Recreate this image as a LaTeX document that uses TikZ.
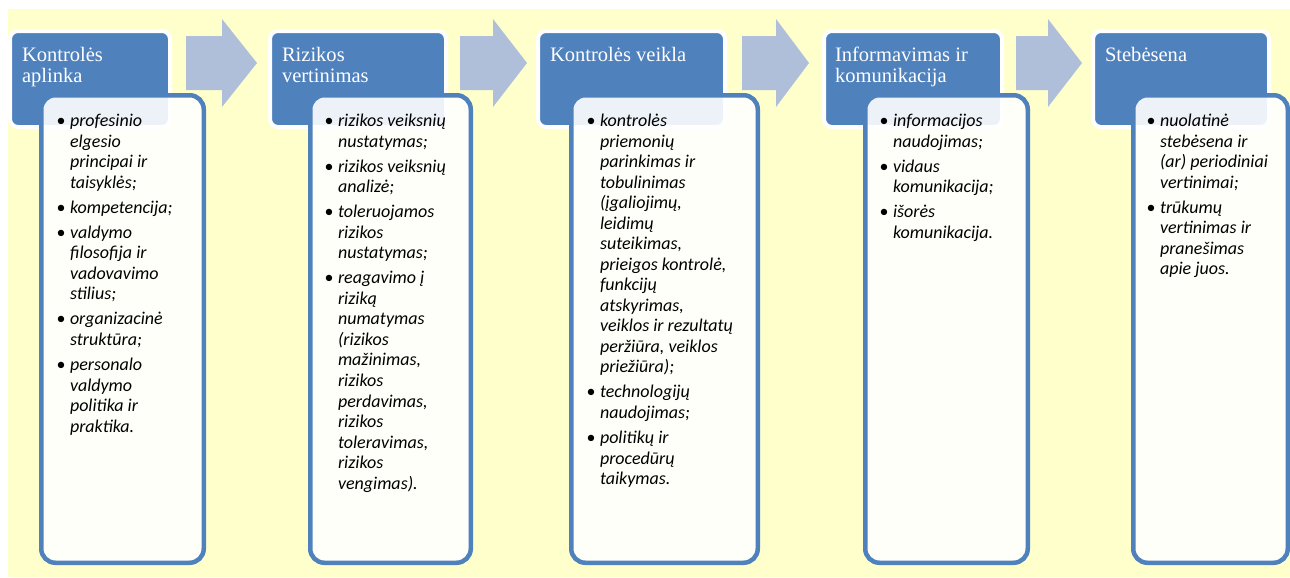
\documentclass[tikz,border=0pt]{standalone}
\usepackage{fontspec}
\setmainfont{Liberation Serif}
\newfontfamily\carl{Carlito}
\newdimen\pxu \pxu=0.75pt
\definecolor{hblue}{HTML}{4F81BD}
\definecolor{ablue}{HTML}{AFBFDA}
\definecolor{bgyel}{HTML}{FFFFCC}
\newcommand{\bl}{\llap{{\upshape\textbullet}\hspace{4.5\pxu}}}
\newcommand{\ig}{\\[3.4pt]}
\tikzset{
  hdr/.style={draw=white, line width=4\pxu, fill=hblue, rounded corners=8\pxu,
    inner sep=0pt, outer sep=0pt, anchor=north west, minimum height=96\pxu},
  cbox/.style={draw=hblue, line width=4.5\pxu, fill=white, fill opacity=0.9, draw opacity=1,
    rounded corners=14\pxu, inner sep=0pt, outer sep=0pt, anchor=north west, minimum height=467.5\pxu},
  htext/.style={anchor=base west, inner sep=0pt, outer sep=0pt, text=white,
    font=\fontsize{15.4}{16}\selectfont},
  ctext/.style={anchor=base west, inner sep=0pt, outer sep=0pt, text=black,
    font=\carl\itshape\fontsize{13.5}{15.4}\selectfont},
  arr/.style={fill=ablue}
}
\begin{document}
\begin{tikzpicture}[x=0.75pt,y=-0.75pt]
\useasboundingbox (0,0) rectangle (1290,578);
\fill[bgyel] (8,9) rectangle (1290,577);
% headers
\node (h1) [hdr, minimum width=160\pxu] at (10,31) {};
\node (h2) [hdr, minimum width=176\pxu] at (270,31) {};
\node (h3) [hdr, minimum width=187\pxu] at (538,31) {};
\node (h4) [hdr, minimum width=178\pxu] at (824,31) {};
\node (h5) [hdr, minimum width=176\pxu] at (1093,31) {};
\node (t1) [htext] at (22,61.5) {\begin{tabular}[t]{@{}l@{}}Kontrolės\\aplinka\end{tabular}};
\node (t2) [htext] at (282,61.5) {\begin{tabular}[t]{@{}l@{}}Rizikos\\vertinimas\end{tabular}};
\node (t3) [htext] at (550,61.5) {\begin{tabular}[t]{@{}l@{}}Kontrolės veikla\end{tabular}};
\node (t4) [htext] at (835,61.5) {\begin{tabular}[t]{@{}l@{}}Informavimas ir\\komunikacija\end{tabular}};
\node (t5) [htext] at (1105,61.5) {\begin{tabular}[t]{@{}l@{}}Stebėsena\end{tabular}};
% arrows
\fill[arr] (186,36) -- (222,36) -- (222,19) -- (257,63) -- (222,107) -- (222,90) -- (186,90) -- cycle;
\fill[arr] (460,36) -- (493,36) -- (493,19) -- (527,63) -- (493,107) -- (493,90) -- (460,90) -- cycle;
\fill[arr] (742,36) -- (776,36) -- (776,19) -- (809,63) -- (776,107) -- (776,90) -- (742,90) -- cycle;
\fill[arr] (1016,36) -- (1048,36) -- (1048,19) -- (1082,63) -- (1048,107) -- (1048,90) -- (1016,90) -- cycle;
% content boxes
\node (c1) [cbox, minimum width=162.5\pxu] at (41.25,95.25) {};
\node (c2) [cbox, minimum width=160.5\pxu] at (310.25,95.25) {};
\node (c3) [cbox, minimum width=186.5\pxu] at (571.25,95.25) {};
\node (c4) [cbox, minimum width=162.5\pxu] at (865.25,95.25) {};
\node (c5) [cbox, minimum width=154.5\pxu] at (1133.25,95.25) {};
% content texts
\node (x1) [ctext] at (70,126.5) {\begin{tabular}[t]{@{}l@{}}
\bl profesinio\\ elgesio\\ principai ir\\ taisyklės;\ig
\bl kompetencija;\ig
\bl valdymo\\ filosofija ir\\ vadovavimo\\ stilius;\ig
\bl organizacinė\\ struktūra;\ig
\bl personalo\\ valdymo\\ politika ir\\ praktika.
\end{tabular}};
\node (x2) [ctext] at (338,126.5) {\begin{tabular}[t]{@{}l@{}}
\bl rizikos veiksnių\\ nustatymas;\ig
\bl rizikos veiksnių\\ analizė;\ig
\bl toleruojamos\\ rizikos\\ nustatymas;\ig
\bl reagavimo į\\ riziką\\ numatymas\\ (rizikos\\ mažinimas,\\ rizikos\\ perdavimas,\\ rizikos\\ toleravimas,\\ rizikos\\ vengimas).
\end{tabular}};
\node (x3) [ctext] at (600,126.5) {\begin{tabular}[t]{@{}l@{}}
\bl kontrolės\\ priemonių\\ parinkimas ir\\ tobulinimas\\ (įgaliojimų,\\ leidimų\\ suteikimas,\\ prieigos kontrolė,\\ funkcijų\\ atskyrimas,\\ veiklos ir rezultatų\\ peržiūra, veiklos\\ priežiūra);\ig
\bl technologijų\\ naudojimas;\ig
\bl politikų ir\\ procedūrų\\ taikymas.
\end{tabular}};
\node (x4) [ctext] at (893,126.5) {\begin{tabular}[t]{@{}l@{}}
\bl informacijos\\ naudojimas;\ig
\bl vidaus\\ komunikacija;\ig
\bl išorės\\ komunikacija.
\end{tabular}};
\node (x5) [ctext] at (1160,126.5) {\begin{tabular}[t]{@{}l@{}}
\bl nuolatinė\\ stebėsena ir\\ (ar) periodiniai\\ vertinimai;\ig
\bl trūkumų\\ vertinimas ir\\ pranešimas\\ apie juos.
\end{tabular}};
\end{tikzpicture}
\end{document}
